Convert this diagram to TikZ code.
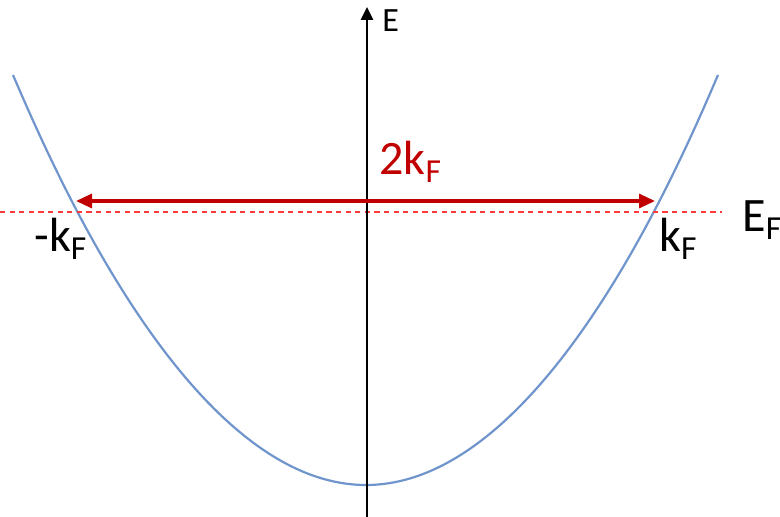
\documentclass[tikz,border=0pt]{standalone}
\usepackage{fontspec}
\setmainfont{Carlito}
\usepackage{xcolor}
\usetikzlibrary{arrows.meta}
\definecolor{band}{HTML}{6F95CC}
\definecolor{darkred}{HTML}{C00000}
\definecolor{fermi}{HTML}{FF3B3B}

\begin{document}
\begin{tikzpicture}[x=0.5pt, y=-0.5pt]
  \useasboundingbox (0,0) rectangle (780,517);
  \coordinate (bot) at (367,517);
  \coordinate (top) at (367,7);
  \coordinate (fl) at (0,212);
  \coordinate (fr) at (722,212);
  \coordinate (kl) at (76,201);
  \coordinate (kr) at (655,201);
  \draw[band, line width=1.1pt] (13,75) parabola bend (366,485) (718,75);
  \draw[fermi, line width=1.4pt, dash pattern=on 2.6pt off 2.2pt] (fl) -- (fr);
  \draw[-{Triangle[length=6.5pt,width=6pt]}, line width=1.3pt] (bot) -- (top);
  \draw[{Triangle[length=8pt,width=7pt]}-{Triangle[length=8pt,width=7pt]}, darkred, line width=1.6pt] (kl) -- (kr);
  \node[anchor=base west, inner sep=0pt, font=\fontsize{17}{20}\selectfont] (elab) at (382,32) {E};
  \node[anchor=base west, inner sep=0pt, darkred, font=\fontsize{24}{27}\selectfont] (twok) at (379,175) {2k\textsubscript{F}};
  \node[anchor=base west, inner sep=0pt, font=\fontsize{24}{27}\selectfont] (mkf) at (34,252) {-k\textsubscript{F}};
  \node[anchor=base west, inner sep=0pt, font=\fontsize{24}{27}\selectfont] (kf) at (659,252) {k\textsubscript{F}};
  \node[anchor=base west, inner sep=0pt, font=\fontsize{24}{27}\selectfont] (ef) at (742,232) {E\textsubscript{F}};
\end{tikzpicture}
\end{document}
